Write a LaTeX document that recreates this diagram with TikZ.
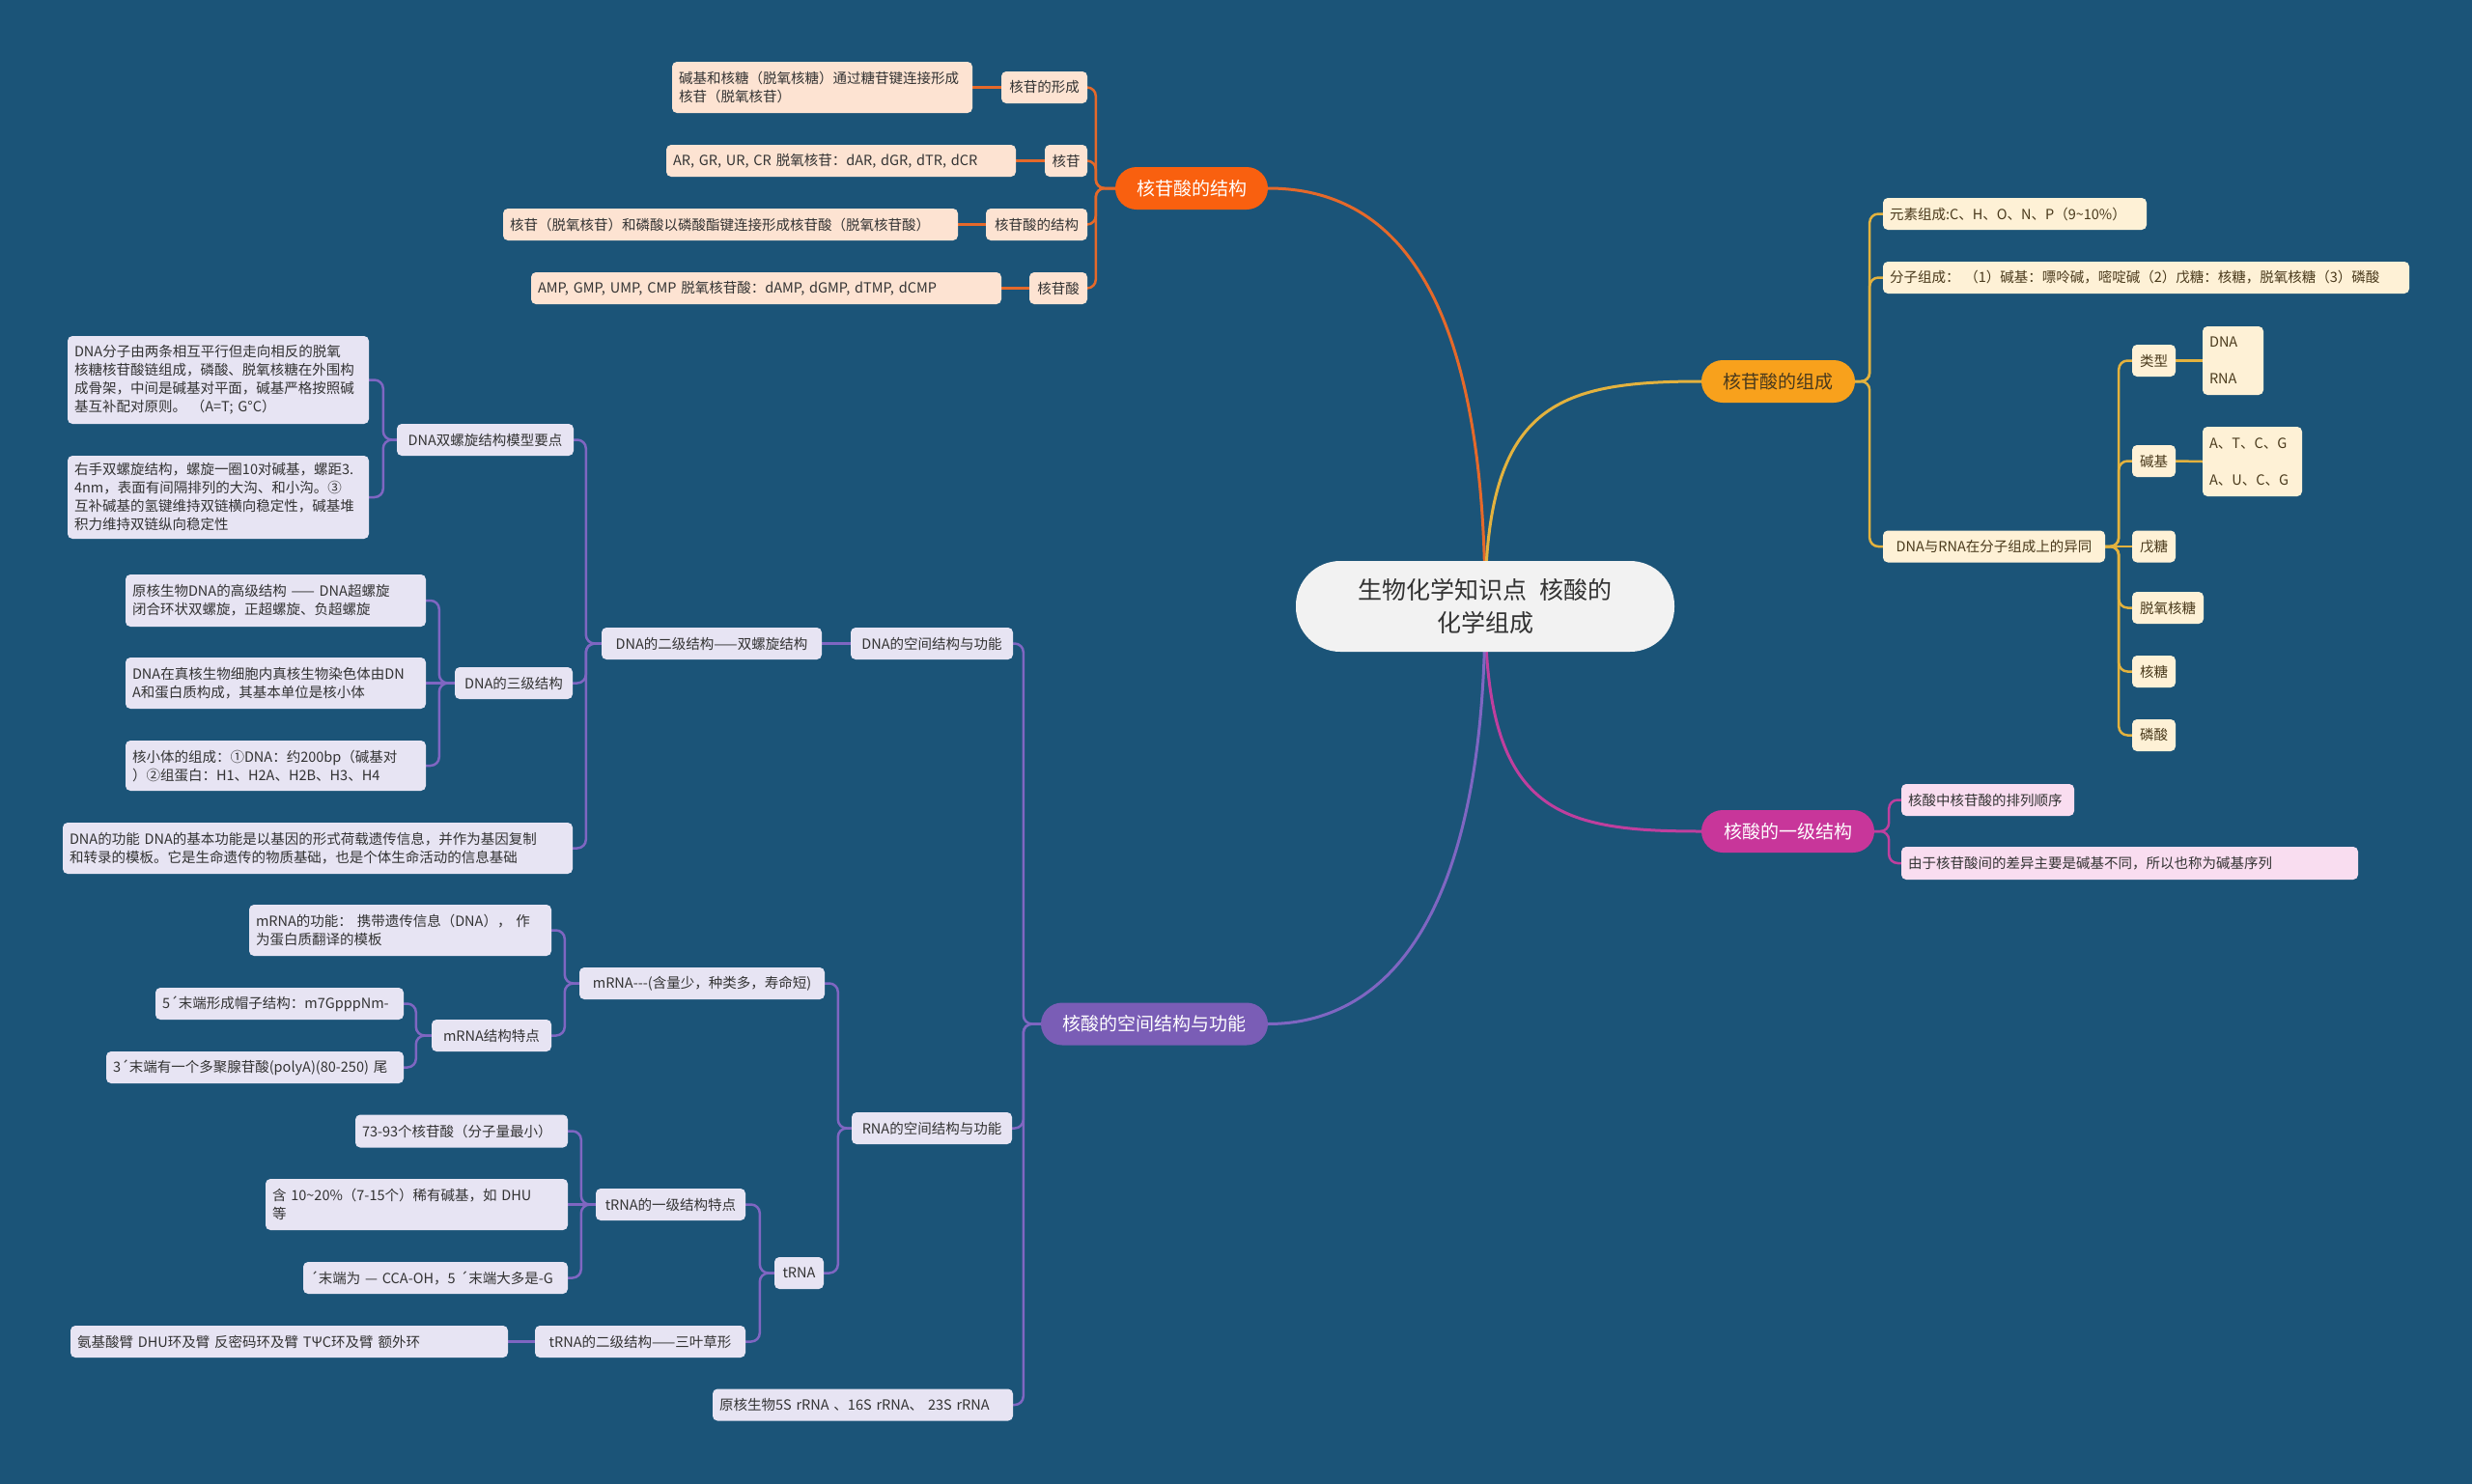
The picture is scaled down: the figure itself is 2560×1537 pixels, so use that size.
\documentclass[tikz,border=0pt]{standalone}
\usepackage{fontspec}
\setmainfont{Noto Sans CJK SC}
\pgfdeclarelayer{bg}
\pgfsetlayers{bg,main}
\definecolor{bgc}{HTML}{1B5478}
\definecolor{rootfill}{HTML}{F2F2F2}
\definecolor{txtc}{HTML}{333333}
\definecolor{atxt}{HTML}{4A3A1C}
\definecolor{ofill}{HTML}{FDE3D2}
\definecolor{afill}{HTML}{FEF1D6}
\definecolor{mfill}{HTML}{F9DDF0}
\definecolor{pfill}{HTML}{E7E4F3}
\definecolor{omain}{HTML}{F9600F}
\definecolor{amain}{HTML}{F8A11C}
\definecolor{mmain}{HTML}{C8369A}
\definecolor{pmain}{HTML}{7A5DB6}
\definecolor{ocon}{HTML}{E5692A}
\definecolor{acon}{HTML}{E3B23E}
\definecolor{mcon}{HTML}{BF3F9E}
\definecolor{pcon}{HTML}{7F66C2}
% leaf: style, name, x, y, w, h, text
\newcommand\LF[7]{\pgfmathsetmacro\lftw{#5-14}\node[#1,minimum width=#5pt,minimum height=#6pt,text width=\lftw pt,align=left] (#2) at (#3,#4) {#7};}
% child: style, name, x, y, w, text
\newcommand\CH[6]{\node[#1,minimum width=#5pt] (#2) at (#3,#4) {#6};}
\begin{document}
\begin{tikzpicture}[x=1pt,y=-1pt,
  nd/.style={rounded corners=5pt, inner xsep=7pt, inner ysep=0pt, minimum height=33pt, font=\fontsize{14.5}{19}\selectfont, text=txtc},
  on/.style={nd, fill=ofill},
  an/.style={nd, fill=afill, text=atxt},
  mn/.style={nd, fill=mfill},
  pn/.style={nd, fill=pfill},
  mainn/.style={rounded corners=22pt, inner sep=0pt, minimum height=44pt, font=\fontsize{19}{23}\selectfont},
  cn/.style={line width=2.5pt, rounded corners=9pt},
  curv/.style={line width=3pt},
]
\useasboundingbox (0,0) rectangle (2560,1537);

% root
\node[fill=rootfill, rounded corners=46pt, minimum width=392pt, minimum height=94pt, inner sep=0pt, align=center, font=\fontsize{25}{34}\selectfont, text=txtc] (root) at (1538,628) {生物化学知识点\hspace{0.55em}核酸的\\化学组成};

% ===== orange branch =====
\node[mainn, fill=omain, text=white, minimum width=158pt] (o) at (1234,195) {核苷酸的结构};
\CH{on}{o1}{1081.5}{90.5}{89}{核苷的形成}
\LF{on}{o1l}{851.5}{90.5}{311}{53}{碱基和核糖（脱氧核糖）通过糖苷键连接形成\\核苷（脱氧核苷）}
\CH{on}{o2}{1104}{166.5}{44}{核苷}
\LF{on}{o2l}{871}{166.5}{362}{33}{AR,~GR,~UR,~CR~脱氧核苷：dAR,~dGR,~dTR,~dCR}
\CH{on}{o3}{1073.5}{232.5}{105}{核苷酸的结构}
\LF{on}{o3l}{756.5}{232.5}{471}{33}{核苷（脱氧核苷）和磷酸以磷酸酯键连接形成核苷酸（脱氧核苷酸）}
\CH{on}{o4}{1096}{298.5}{60}{核苷酸}
\LF{on}{o4l}{793.5}{298.5}{487}{33}{AMP,~GMP,~UMP,~CMP~脱氧核苷酸：dAMP,~dGMP,~dTMP,~dCMP}

% ===== amber branch =====
\node[mainn, fill=amain, text=atxt, minimum width=159pt] (a) at (1841.5,395) {核苷酸的组成};
\LF{an}{a1}{2086.5}{221.5}{273}{33}{元素组成:C、H、O、N、P（9\textasciitilde10\%）}
\LF{an}{a2}{2222.5}{287.5}{545}{33}{分子组成：~（1）碱基：嘌呤碱，嘧啶碱（2）戊糖：核糖，脱氧核糖（3）磷酸}
\CH{an}{a3}{2065}{566}{230}{DNA与RNA在分子组成上的异同}
\CH{an}{a31}{2230.5}{373.5}{45}{类型}
\node[an, minimum width=63pt, minimum height=71pt, text width=49pt, align=left, font=\fontsize{14.5}{38}\selectfont] (a31l) at (2312.5,373.5) {DNA\\RNA};
\CH{an}{a32}{2230.5}{477.5}{45}{碱基}
\node[an, minimum width=103pt, minimum height=72pt, text width=89pt, align=left, font=\fontsize{14.5}{38}\selectfont] (a32l) at (2332.5,478) {A、T、C、G\\A、U、C、G};
\CH{an}{a33}{2230.5}{566}{45}{戊糖}
\CH{an}{a34}{2245}{629.5}{74}{脱氧核糖}
\CH{an}{a35}{2230.5}{695.5}{45}{核糖}
\CH{an}{a36}{2230.5}{761.5}{45}{磷酸}

% ===== magenta branch =====
\node[mainn, fill=mmain, text=white, minimum width=179pt] (m) at (1851.5,861) {核酸的一级结构};
\LF{mn}{m1}{2058.5}{828.5}{179}{33}{核酸中核苷酸的排列顺序}
\LF{mn}{m2}{2205.5}{894}{473}{34}{由于核苷酸间的差异主要是碱基不同，所以也称为碱基序列}

% ===== purple branch =====
\node[mainn, fill=pmain, text=white, minimum width=235pt] (p) at (1195.5,1060.5) {核酸的空间结构与功能};
\CH{pn}{p1}{965}{666.5}{168}{DNA的空间结构与功能}
\CH{pn}{p11}{737}{666.5}{228}{DNA的二级结构——双螺旋结构}
\CH{pn}{p111}{502.5}{455.5}{183}{DNA双螺旋结构模型要点}
\LF{pn}{p111a}{226}{393.5}{312}{91}{DNA分子由两条相互平行但走向相反的脱氧\\核糖核苷酸链组成，磷酸、脱氧核糖在外围构\\成骨架，中间是碱基对平面，碱基严格按照碱\\基互补配对原则。~（A=T;~G°C）}
\LF{pn}{p111b}{226}{515}{312}{86}{右手双螺旋结构，螺旋一圈10对碱基，螺距3.\\4nm，表面有间隔排列的大沟、和小沟。③\\互补碱基的氢键维持双链横向稳定性，碱基堆\\积力维持双链纵向稳定性}
\CH{pn}{p112}{532}{707.5}{122}{DNA的三级结构}
\LF{pn}{p112a}{285.5}{622}{311}{54}{原核生物DNA的高级结构~——~DNA超螺旋\\闭合环状双螺旋，正超螺旋、负超螺旋}
\LF{pn}{p112b}{285.5}{707.5}{311}{53}{DNA在真核生物细胞内真核生物染色体由DN\\A和蛋白质构成，其基本单位是核小体}
\LF{pn}{p112c}{285.5}{793}{311}{52}{核小体的组成：①DNA：约200bp（碱基对\\）②组蛋白：H1、H2A、H2B、H3、H4}
\LF{pn}{p113}{329}{878.5}{528}{53}{DNA的功能~DNA的基本功能是以基因的形式荷载遗传信息，并作为基因复制\\和转录的模板。它是生命遗传的物质基础，也是个体生命活动的信息基础}
\CH{pn}{p2}{965}{1168.5}{166}{RNA的空间结构与功能}
\CH{pn}{p21}{727}{1018.5}{254}{mRNA-{}-{}-(含量少，种类多，寿命短)}
\LF{pn}{p211}{414.5}{963.5}{313}{53}{mRNA的功能：~携带遗传信息（DNA），~作\\为蛋白质翻译的模板}
\CH{pn}{p212}{509}{1072.5}{124}{mRNA结构特点}
\LF{pn}{p2121}{289.5}{1039.5}{257}{33}{5´末端形成帽子结构：m7GpppNm-}
\LF{pn}{p2122}{264}{1105.5}{308}{33}{3´末端有一个多聚腺苷酸(polyA)(80-250)~尾}
\CH{pn}{p22}{827.5}{1318.5}{51}{tRNA}
\CH{pn}{p221}{694.5}{1247.5}{155}{tRNA的一级结构特点}
\LF{pn}{p2211}{478}{1171.5}{220}{34}{73-93个核苷酸（分子量最小）}
\LF{pn}{p2212}{431.5}{1247.5}{313}{53}{含~10\textasciitilde20\%（7-15个）稀有碱基，如~DHU\\等}
\LF{pn}{p2213}{451}{1323.5}{274}{33}{´末端为~—~CCA-OH，5~´末端大多是-G}
\CH{pn}{p222}{663}{1389.5}{218}{tRNA的二级结构——三叶草形}
\LF{pn}{p2221}{299.5}{1389.5}{453}{33}{氨基酸臂~DHU环及臂~反密码环及臂~TΨC环及臂~额外环}
\LF{pn}{p3}{893.5}{1455}{311}{33}{原核生物5S~rRNA~、16S~rRNA、~23S~rRNA}

% ===== connectors =====
\begin{pgfonlayer}{bg}
\fill[bgc] (0,0) rectangle (2560,1537);
% main curves
\draw[curv, ocon] (root.center) .. controls (1538,280) and (1430,195) .. (o.east);
\draw[curv, acon] (root.center) .. controls (1538,420) and (1610,395) .. (a.west);
\draw[curv, mcon] (root.center) .. controls (1538,840) and (1610,861) .. (m.west);
\draw[curv, pcon] (root.center) .. controls (1538,960) and (1430,1060.5) .. (p.east);
% orange
\foreach \c in {o1,o2,o3,o4} \draw[cn, ocon] (o.west) -- ++(-20,0) |- (\c.east);
\foreach \c in {o1,o2,o3,o4} \draw[cn, ocon] (\c.west) -- (\c l.east);
% amber
\foreach \c in {a1,a2,a3} \draw[cn, acon] (a.east) -- ++(15,0) |- (\c.west);
\foreach \c in {a31,a32,a34,a35,a36} \draw[cn, acon] (a3.east) -- ++(14,0) |- (\c.west);
\draw[cn, acon] (a3.east) -- (a33.west);
\draw[cn, acon] (a31.east) -- (a31l.west);
\draw[cn, acon] (a32.east) -- (a32l.west);
% magenta
\foreach \c in {m1,m2} \draw[cn, mcon] (m.east) -- ++(15,0) |- (\c.west);
% purple
\foreach \c in {p1,p2,p3} \draw[cn, pcon] (p.west) -- ++(-18,0) |- (\c.east);
\draw[cn, pcon] (p1.west) -- (p11.east);
\foreach \c in {p111,p112,p113} \draw[cn, pcon] (p11.west) -- ++(-16,0) |- (\c.east);
\foreach \c in {p111a,p111b} \draw[cn, pcon] (p111.west) -- ++(-14,0) |- (\c.east);
\foreach \c in {p112a,p112c} \draw[cn, pcon] (p112.west) -- ++(-16,0) |- (\c.east);
\draw[cn, pcon] (p112.west) -- (p112b.east);
\foreach \c in {p21,p22} \draw[cn, pcon] (p2.west) -- ++(-14,0) |- (\c.east);
\foreach \c in {p211,p212} \draw[cn, pcon] (p21.west) -- ++(-15,0) |- (\c.east);
\foreach \c in {p2121,p2122} \draw[cn, pcon] (p212.west) -- ++(-16,0) |- (\c.east);
\foreach \c in {p221,p222} \draw[cn, pcon] (p22.west) -- ++(-15,0) |- (\c.east);
\foreach \c in {p2211,p2213} \draw[cn, pcon] (p221.west) -- ++(-15,0) |- (\c.east);
\draw[cn, pcon] (p221.west) -- (p2212.east);
\draw[cn, pcon] (p222.west) -- (p2221.east);
\end{pgfonlayer}
\end{tikzpicture}
\end{document}
